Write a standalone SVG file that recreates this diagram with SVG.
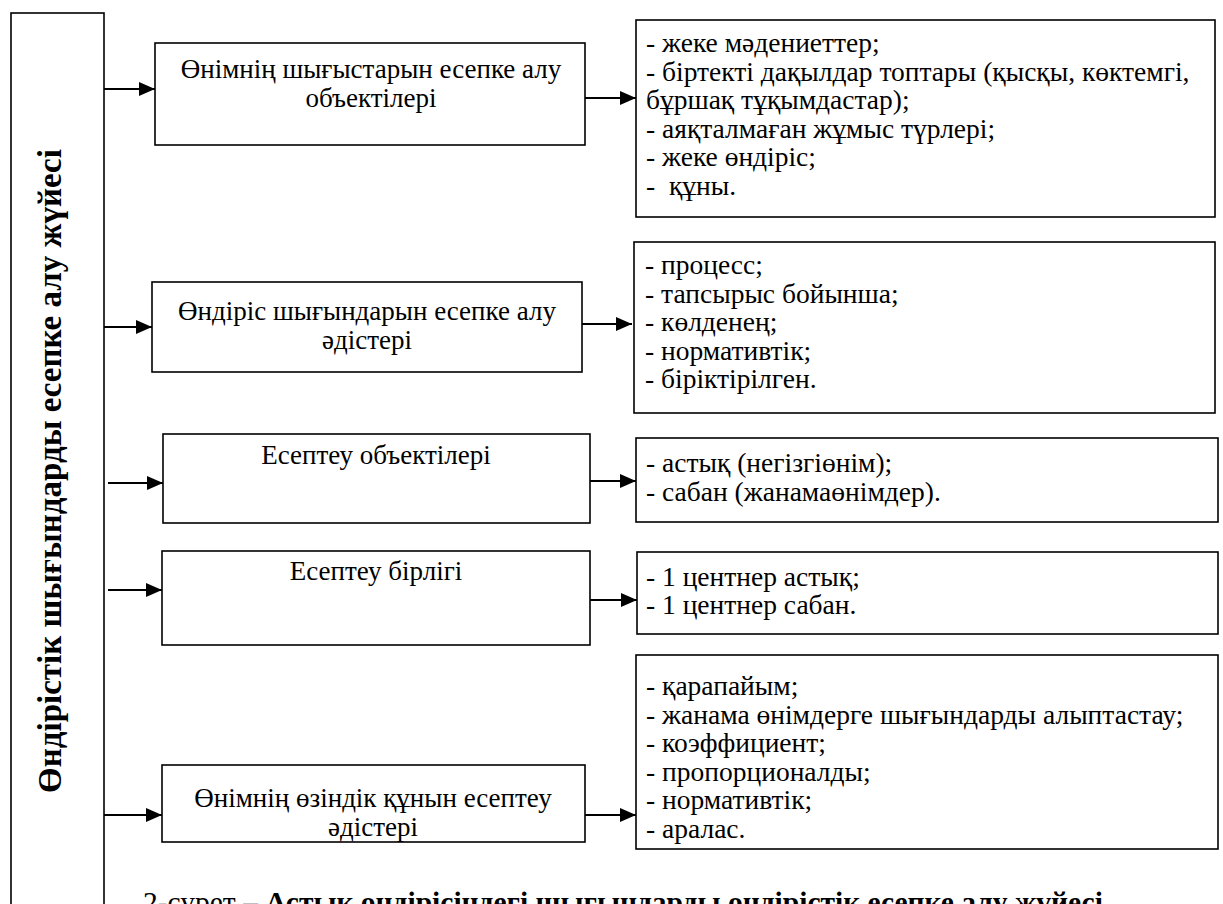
<svg xmlns="http://www.w3.org/2000/svg" width="1223" height="904" viewBox="0 0 1223 904">
<style>
.box{fill:#fff;stroke:#000;stroke-width:1.6}
.ln{stroke:#000;stroke-width:2;fill:none}
</style>
<defs>
<marker id="ah" viewBox="0 0 16 14" refX="16" refY="7" markerWidth="16" markerHeight="14" markerUnits="userSpaceOnUse" orient="auto">
<path d="M0,0 L16,7 L0,14 Z" fill="#000"/>
</marker>
</defs>
<rect width="1223" height="904" fill="#fff"/>
<g font-family="Liberation Serif, Times New Roman, serif" font-size="27" fill="#000">
<g id="root">
<rect class="box" x="11" y="13" width="93" height="900"/>
<text font-weight="bold" font-size="33" text-anchor="middle" transform="translate(61,471) rotate(-90)">Өндірістік шығындарды есепке алу жүйесі</text>
</g>
<g id="n1" text-anchor="middle">
<rect class="box" x="155" y="43" width="430" height="102"/>
<text x="371" y="78">Өнімнің шығыстарын есепке алу</text>
<text x="371" y="107">объектілері</text>
</g>
<g id="l1" font-size="27.5">
<rect class="box" x="636" y="20" width="579" height="197"/>
<text x="646" y="52">- жеке мәдениеттер;</text>
<text x="646" y="81">- біртекті дақылдар топтары (қысқы, көктемгі,</text>
<text x="646" y="109">бұршақ тұқымдастар);</text>
<text x="646" y="138">- аяқталмаған жұмыс түрлері;</text>
<text x="646" y="166">- жеке өндіріс;</text>
<text x="646" y="195" xml:space="preserve">-  құны.</text>
</g>
<g id="n2" text-anchor="middle">
<rect class="box" x="152" y="282" width="430" height="90"/>
<text x="367" y="320">Өндіріс шығындарын есепке алу</text>
<text x="367" y="349">әдістері</text>
</g>
<g id="l2" font-size="27.5">
<rect class="box" x="634" y="242" width="581" height="171"/>
<text x="645" y="274">- процесс;</text>
<text x="645" y="303">- тапсырыс бойынша;</text>
<text x="645" y="331">- көлденең;</text>
<text x="645" y="360">- нормативтік;</text>
<text x="645" y="388">- біріктірілген.</text>
</g>
<g id="n3" text-anchor="middle">
<rect class="box" x="163" y="434" width="427" height="89"/>
<text x="376" y="464">Есептеу объектілері</text>
</g>
<g id="l3" font-size="27.5">
<rect class="box" x="636" y="438" width="582" height="84"/>
<text x="646" y="472">- астық (негізгіөнім);</text>
<text x="646" y="501">- сабан (жанамаөнімдер).</text>
</g>
<g id="n4" text-anchor="middle">
<rect class="box" x="162" y="551" width="428" height="94"/>
<text x="376" y="580">Есептеу бірлігі</text>
</g>
<g id="l4" font-size="27.5">
<rect class="box" x="637" y="552" width="581" height="82"/>
<text x="646" y="586">- 1 центнер астық;</text>
<text x="646" y="614">- 1 центнер сабан.</text>
</g>
<g id="n5" text-anchor="middle">
<rect class="box" x="162" y="765" width="423" height="77"/>
<text x="373" y="807">Өнімнің өзіндік құнын есептеу</text>
<text x="373" y="836">әдістері</text>
</g>
<g id="l5" font-size="27.5">
<rect class="box" x="636" y="655" width="582" height="194"/>
<text x="646" y="695">- қарапайым;</text>
<text x="646" y="724">- жанама өнімдерге шығындарды алыптастау;</text>
<text x="646" y="752">- коэффициент;</text>
<text x="646" y="781">- пропорционалды;</text>
<text x="646" y="809">- нормативтік;</text>
<text x="646" y="838">- аралас.</text>
</g>
<g id="caption">
<text x="143" y="912" font-size="29.5">2-сурет – <tspan font-weight="bold">Астық өндірісіндегі шығындарды өндірістік есепке алу жүйесі</tspan></text>
</g>
</g>
<g id="connectors">
<line class="ln" x1="104" y1="89" x2="155" y2="89" marker-end="url(#ah)"/>
<line class="ln" x1="104" y1="327" x2="152" y2="327" marker-end="url(#ah)"/>
<line class="ln" x1="108" y1="483" x2="163" y2="483" marker-end="url(#ah)"/>
<line class="ln" x1="108" y1="590" x2="162" y2="590" marker-end="url(#ah)"/>
<line class="ln" x1="104" y1="815" x2="162" y2="815" marker-end="url(#ah)"/>
<line class="ln" x1="585" y1="98" x2="636" y2="98" marker-end="url(#ah)"/>
<line class="ln" x1="582" y1="324" x2="632" y2="324" marker-end="url(#ah)"/>
<line class="ln" x1="590" y1="481" x2="636" y2="481" marker-end="url(#ah)"/>
<line class="ln" x1="590" y1="600" x2="637" y2="600" marker-end="url(#ah)"/>
<line class="ln" x1="585" y1="815" x2="636" y2="815" marker-end="url(#ah)"/>
</g>
</svg>
